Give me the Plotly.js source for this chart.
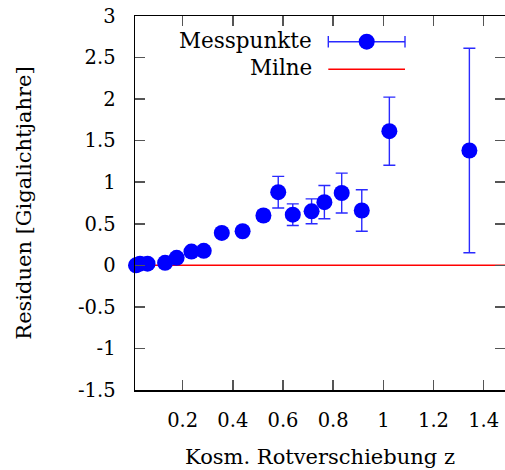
<!DOCTYPE html>
<html>
<head>
<meta charset="utf-8">
<script src="https://cdn.plot.ly/plotly-3.0.1.min.js"></script>
<style>html,body{margin:0;padding:0;background:#fff;}#plot{width:505px;height:470px;}</style>
</head>
<body>
<div id="plot"></div>
<script>
// Data
const redshift = [0.014, 0.03, 0.06, 0.13, 0.176, 0.235, 0.284, 0.356, 0.439, 0.522, 0.581, 0.639, 0.714, 0.765, 0.834, 0.914, 1.024, 1.343];
const residual = [0.0, 0.02, 0.02, 0.03, 0.09, 0.165, 0.175, 0.39, 0.41, 0.60, 0.88, 0.61, 0.65, 0.76, 0.87, 0.66, 1.614, 1.382];
const residualErr = [0.01, 0.01, 0.01, 0.02, 0.03, 0.03, 0.04, 0.05, 0.05, 0.06, 0.19, 0.13, 0.15, 0.20, 0.24, 0.25, 0.41, 1.23];
const milneX = [0.0, 1.6];
const milneY = [0, 0];
const xTicks = [0.2, 0.4, 0.6, 0.8, 1, 1.2, 1.4];
const xTickText = ['0.2', '0.4', '0.6', '0.8', '1', '1.2', '1.4'];
const yTicks = [-1.5, -1, -0.5, 0, 0.5, 1, 1.5, 2, 2.5, 3];
const yTickText = ['-1.5', '-1', '-0.5', '0', '0.5', '1', '1.5', '2', '2.5', '3'];
const legendNames = ['Messpunkte', 'Milne'];

const FONT = 'DejaVu Serif';
const L = 135, T = 16, W = 370, H = 374;
const px = x => (x - L) / W;
const py = y => (T + H - y) / H;

const traces = [
  {
    x: milneX, y: milneY, mode: 'lines', name: legendNames[1],
    line: {color: '#ff0000', width: 1.5}, showlegend: false, hoverinfo: 'skip'
  },
  {
    x: redshift, y: residual, mode: 'markers', name: legendNames[0],
    marker: {color: '#0000ff', size: 16},
    cliponaxis: false,
    error_y: {type: 'data', array: residualErr, visible: true, color: '#2a2aff', thickness: 1.4, width: 6},
    showlegend: false
  }
];

const shapes = [
  {type: 'line', xref: 'paper', yref: 'paper', x0: px(328.3), x1: px(405), y0: py(41.7), y1: py(41.7), line: {color: '#2a2aff', width: 1.4}},
  {type: 'line', xref: 'paper', yref: 'paper', x0: px(328.3), x1: px(328.3), y0: py(36), y1: py(47.5), line: {color: '#2a2aff', width: 1.4}},
  {type: 'line', xref: 'paper', yref: 'paper', x0: px(405), x1: px(405), y0: py(36), y1: py(47.5), line: {color: '#2a2aff', width: 1.4}},
  {type: 'circle', xref: 'paper', yref: 'paper', x0: px(358.7), x1: px(374.7), y0: py(49.7), y1: py(33.7), fillcolor: '#0000ff', line: {color: '#0000ff', width: 0}},
  {type: 'line', xref: 'paper', yref: 'paper', x0: px(328.3), x1: px(405), y0: py(69.3), y1: py(69.3), line: {color: '#ff0000', width: 1.5}}
];

const annotations = [
  {text: legendNames[0], xref: 'paper', yref: 'paper', x: px(314), y: py(40), xanchor: 'right', yanchor: 'middle', showarrow: false, font: {family: FONT, size: 21.5, color: '#000'}},
  {text: legendNames[1], xref: 'paper', yref: 'paper', x: px(314), y: py(67), xanchor: 'right', yanchor: 'middle', showarrow: false, font: {family: FONT, size: 21.5, color: '#000'}}
];

const axisCommon = {
  showgrid: false, zeroline: false, showline: true, linecolor: '#000', linewidth: 1.5,
  mirror: 'allticks', ticks: 'inside', ticklen: 10, tickwidth: 1.5, tickcolor: '#555',
  tickfont: {family: FONT, size: 19.5, color: '#000'}
};

const layout = {
  width: 505, height: 470,
  margin: {l: L, r: 505 - L - W, t: T, b: 470 - T - H, pad: 0},
  paper_bgcolor: '#fff', plot_bgcolor: '#fff',
  showlegend: false,
  font: {family: FONT},
  xaxis: Object.assign({}, axisCommon, {
    range: [0.01, 1.485], tickmode: 'array', tickvals: xTicks, ticktext: xTickText,
    ticklabelstandoff: 12,
    title: {text: 'Kosm. Rotverschiebung z', font: {family: FONT, size: 21, color: '#000'}, standoff: 18}
  }),
  yaxis: Object.assign({}, axisCommon, {
    range: [-1.5, 3], tickmode: 'array', tickvals: yTicks, ticktext: yTickText,
    ticklabelstandoff: 14,
    title: {text: 'Residuen [Gigalichtjahre]', font: {family: FONT, size: 21, color: '#000'}, standoff: 40}
  }),
  shapes: shapes,
  annotations: annotations
};

Plotly.newPlot('plot', traces, layout, {staticPlot: true, displayModeBar: false});
</script>
</body>
</html>
